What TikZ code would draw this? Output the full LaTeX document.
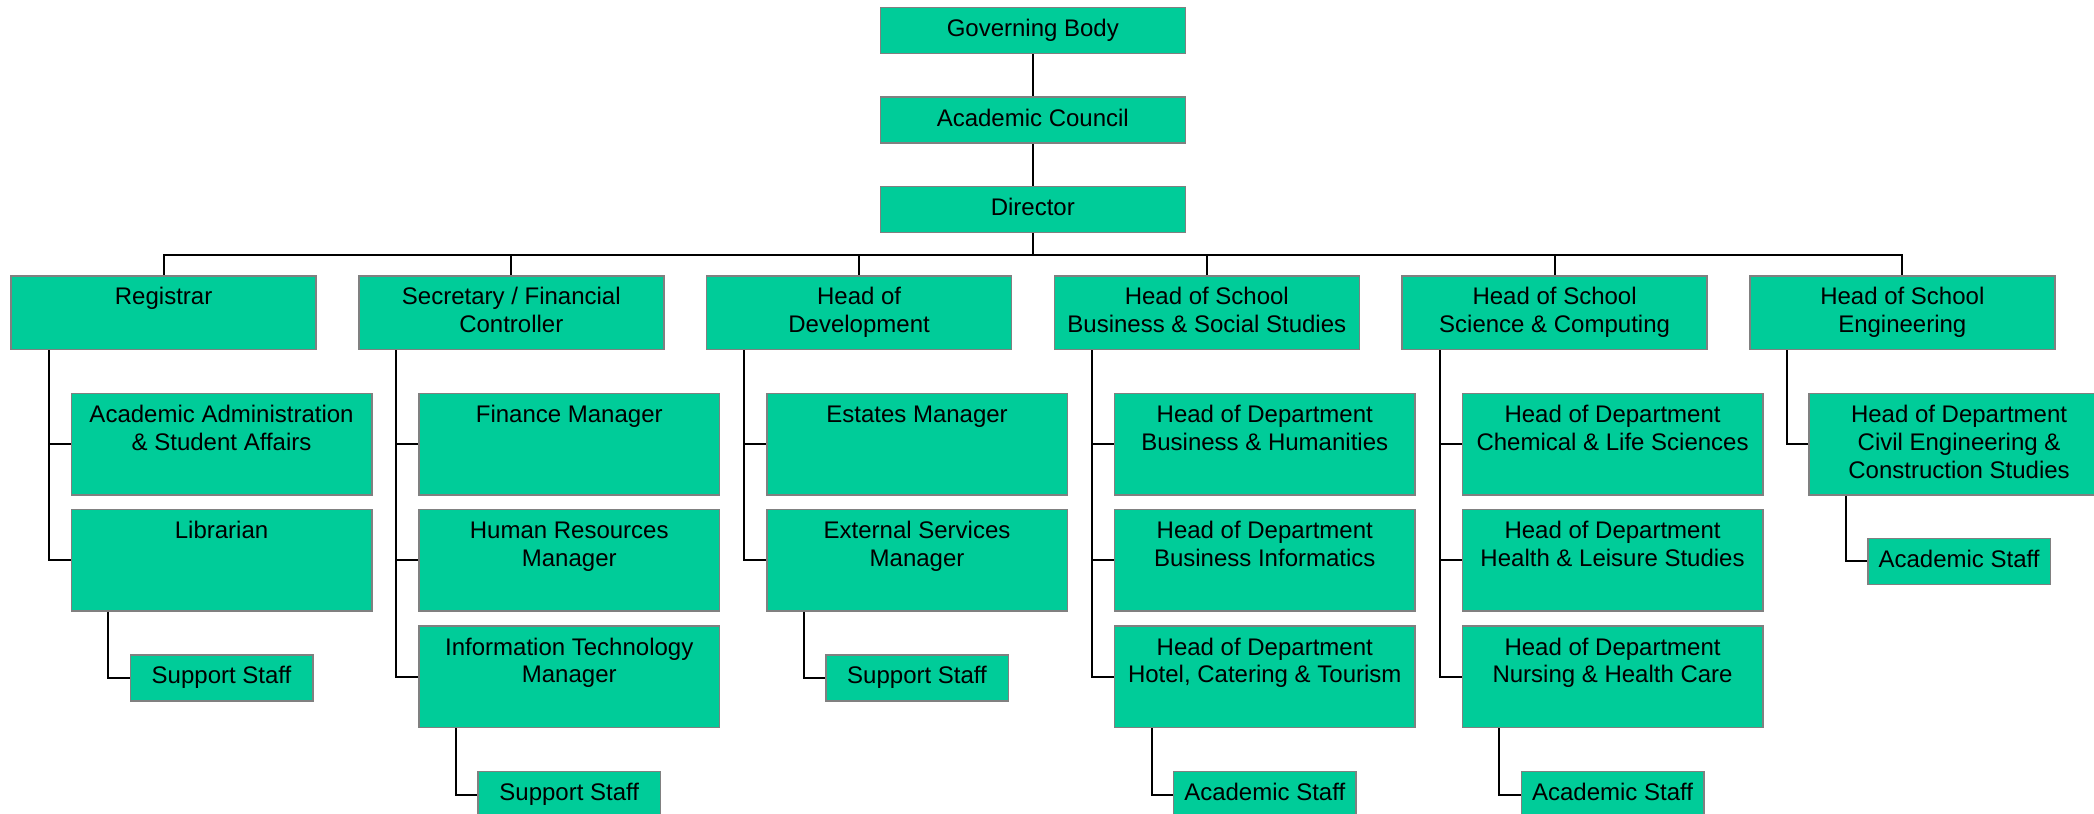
\documentclass[tikz,border=0pt]{standalone}
\usepackage{fontspec}
\setmainfont{Liberation Sans}
\definecolor{boxfill}{RGB}{0,204,153}
\definecolor{boxline}{RGB}{128,128,128}
\tikzset{
  bx/.style={draw=boxline, line width=1.6pt, fill=boxfill, inner sep=0pt, anchor=north west},
  topbox/.style={bx, minimum width=305, minimum height=46},
  lvtwo/.style={bx, minimum width=305, minimum height=73.7},
  lvthree/.style={bx, minimum width=300.5, minimum height=101.3},
  smbox/.style={bx, minimum width=182.5, minimum height=46},
  lbl/.style={font=\fontsize{24}{27.8}\selectfont, align=center, inner sep=0pt, anchor=north},
  conn/.style={draw=black, line width=2pt}
}
\newcommand\orgbox[5]{%
  \node[#2] (#1) at (#3,#4) {};
  \node[lbl] (#1t) at ([yshift=-7.5]#1.north) {\rule{0pt}{22pt}#5};%
}
\begin{document}
\begin{tikzpicture}[x=1pt,y=1pt]
\path[use as bounding box, fill=white] (0,0) rectangle (2094,-814);
\clip (0,0) rectangle (2094,-814);
% top
\orgbox{gb}{topbox}{879.5}{-6.7}{Governing Body}
\orgbox{ac}{topbox}{879.5}{-96.3}{Academic Council}
\orgbox{dir}{topbox}{879.5}{-185.7}{Director}
% level 2
\orgbox{reg}{lvtwo}{10.3}{-275}{Registrar}
\orgbox{sec}{lvtwo}{358}{-275}{Secretary / Financial\\Controller}
\orgbox{dev}{lvtwo}{705.8}{-275}{Head of\\Development}
\orgbox{bus}{lvtwo}{1053.5}{-275}{Head of School\\Business \& Social Studies}
\orgbox{sci}{lvtwo}{1401.3}{-275}{Head of School\\Science \& Computing}
\orgbox{eng}{lvtwo}{1749}{-275}{Head of School\\Engineering}
% level 3
\orgbox{aa}{lvthree}{70.5}{-392.7}{Academic Administration\\\& Student Affairs}
\orgbox{lib}{lvthree}{70.5}{-508.7}{Librarian}
\orgbox{fm}{lvthree}{418.2}{-392.7}{Finance Manager}
\orgbox{hr}{lvthree}{418.2}{-508.7}{Human Resources\\Manager}
\orgbox{it}{lvthree}{418.2}{-625.3}{Information Technology\\Manager}
\orgbox{est}{lvthree}{766}{-392.7}{Estates Manager}
\orgbox{ext}{lvthree}{766}{-508.7}{External Services\\Manager}
\orgbox{bh}{lvthree}{1113.7}{-392.7}{Head of Department\\Business \& Humanities}
\orgbox{bi}{lvthree}{1113.7}{-508.7}{Head of Department\\Business Informatics}
\orgbox{hct}{lvthree}{1113.7}{-625.3}{Head of Department\\Hotel, Catering \& Tourism}
\orgbox{cls}{lvthree}{1461.5}{-392.7}{Head of Department\\Chemical \& Life Sciences}
\orgbox{hls}{lvthree}{1461.5}{-508.7}{Head of Department\\Health \& Leisure Studies}
\orgbox{nhc}{lvthree}{1461.5}{-625.3}{Head of Department\\Nursing \& Health Care}
\orgbox{civ}{lvthree}{1808}{-392.7}{Head of Department\\Civil Engineering \&\\Construction Studies}
% small boxes
\orgbox{ssa}{smbox}{129.5}{-654}{Support Staff}
\orgbox{ssb}{smbox}{477.2}{-770.7}{Support Staff}
\orgbox{ssc}{smbox}{825}{-654}{Support Staff}
\orgbox{asa}{smbox}{1172.7}{-770.7}{Academic Staff}
\orgbox{asb}{smbox}{1520.5}{-770.7}{Academic Staff}
\orgbox{asc}{smbox}{1867}{-537.5}{Academic Staff}
% connectors
\draw[conn] (gb.south) -- (ac.north);
\draw[conn] (ac.south) -- (dir.north);
\foreach \n in {reg,sec,dev,bus,sci,eng}
  \draw[conn] (dir.south) -- ++(0,-22) -| (\n.north);
\draw[conn] ([xshift=-115]reg.south) |- (aa.west);
\draw[conn] ([xshift=-115]reg.south) |- (lib.west);
\draw[conn] ([xshift=-115]sec.south) |- (fm.west);
\draw[conn] ([xshift=-115]sec.south) |- (hr.west);
\draw[conn] ([xshift=-115]sec.south) |- (it.west);
\draw[conn] ([xshift=-115]dev.south) |- (est.west);
\draw[conn] ([xshift=-115]dev.south) |- (ext.west);
\draw[conn] ([xshift=-115]bus.south) |- (bh.west);
\draw[conn] ([xshift=-115]bus.south) |- (bi.west);
\draw[conn] ([xshift=-115]bus.south) |- (hct.west);
\draw[conn] ([xshift=-115]sci.south) |- (cls.west);
\draw[conn] ([xshift=-115]sci.south) |- (hls.west);
\draw[conn] ([xshift=-115]sci.south) |- (nhc.west);
\draw[conn] ([xshift=-115]eng.south) |- (civ.west);
\draw[conn] ([xshift=-113.25]lib.south) |- (ssa.west);
\draw[conn] ([xshift=-113.25]it.south) |- (ssb.west);
\draw[conn] ([xshift=-113.25]ext.south) |- (ssc.west);
\draw[conn] ([xshift=-113.25]hct.south) |- (asa.west);
\draw[conn] ([xshift=-113.25]nhc.south) |- (asb.west);
\draw[conn] ([xshift=-113.25]civ.south) |- (asc.west);
\end{tikzpicture}
\end{document}
